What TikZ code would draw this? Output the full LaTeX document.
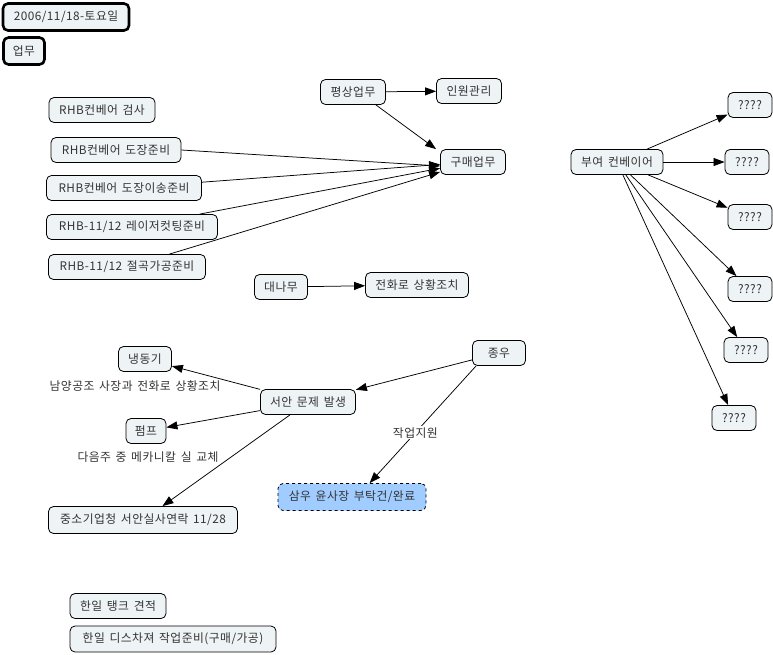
\documentclass[tikz,border=0pt]{standalone}
\usepackage{fontspec}
\setmainfont[LetterSpace=4, WordSpace=1.5]{Noto Sans CJK KR}
\usetikzlibrary{arrows.meta}
\definecolor{nodefill}{HTML}{EEF3F6}
\definecolor{bluefill}{HTML}{A0CCFF}
\definecolor{txt}{HTML}{333333}
\tikzset{
  box/.style={draw=black, line width=0.8pt, rounded corners=5pt, fill=nodefill, inner sep=0pt,
    font=\fontsize{11.8}{13}\selectfont, text=txt, minimum height=25pt},
  thickbox/.style={box, line width=2.6pt, minimum height=27pt},
  bluebox/.style={box, fill=bluefill, dashed},
  plain/.style={inner sep=1pt, font=\fontsize{11.8}{13}\selectfont, text=txt},
  ar/.style={-{Triangle[length=11pt,width=8pt]}, line width=0.75pt, draw=black},
  ln/.style={line width=0.75pt, draw=black}
}
\begin{document}
\begin{tikzpicture}[x=1pt,y=-1pt]
\useasboundingbox (0,0) rectangle (773,654);
% top-left
\node[thickbox, minimum width=126pt] (date) at (66,17) {2006/11/18-토요일};
\node[thickbox, minimum width=41pt] (work) at (24,51) {업무};
% RHB nodes
\node[box, minimum width=106pt] (r1) at (102,110) {RHB컨베어 검사};
\node[box, minimum width=130pt] (r2) at (116,150) {RHB컨베어 도장준비};
\node[box, minimum width=155pt] (r3) at (124,188) {RHB컨베어 도장이송준비};
\node[box, minimum width=171pt] (r4) at (132,227) {RHB-11/12 레이저컷팅준비};
\node[box, minimum width=157pt] (r5) at (127,267) {RHB-11/12 절곡가공준비};
% middle top
\node[box, minimum width=65pt] (pyeong) at (353,92) {평상업무};
\node[box, minimum width=65pt] (inwon) at (469,91) {인원관리};
\node[box, minimum width=65pt] (gumae) at (473,162) {구매업무};
\node[box, minimum width=53pt] (daenamu) at (281,287) {대나무};
\node[box, minimum width=103pt] (jeonhwa) at (417,285) {전화로 상황조치};
% right
\node[box, minimum width=44pt] (q1) at (750,105) {????};
\node[box, minimum width=92pt] (buyeo) at (617,162) {부여 컨베이어};
\node[box, minimum width=44pt] (q2) at (747,162) {????};
\node[box, minimum width=44pt] (q3) at (750,217) {????};
\node[box, minimum width=44pt] (q4) at (750,289) {????};
\node[box, minimum width=44pt] (q5) at (746,350) {????};
\node[box, minimum width=44pt] (q6) at (734,418) {????};
% lower-left
\node[box, minimum width=53pt] (naeng) at (145,359) {냉동기};
\node[plain] (t1) at (135,386) {남양공조 사장과 전화로 상황조치};
\node[box, minimum width=40pt] (pump) at (146,431) {펌프};
\node[plain] (t2) at (148,457) {다음주 중 메카니칼 실 교체};
\node[box, minimum width=95pt] (seoan) at (308,402) {서안 문제 발생};
\node[box, minimum width=53pt] (jongwoo) at (499,353) {종우};
\node[bluebox, minimum width=148pt, minimum height=27pt] (samwoo) at (352,497) {삼우 윤사장 부탁건/완료};
\node[box, minimum width=189pt, minimum height=27pt] (jungso) at (143,520) {중소기업청 서안실사연락 11/28};
\node[box, minimum width=96pt] (hanil1) at (118,606) {한일 탱크 견적};
\node[box, minimum width=206pt, minimum height=26pt] (hanil2) at (173,639) {한일 디스차져 작업준비(구매/가공)};
% edges
\draw[ar] (pyeong) -- (inwon);
\draw[ar] ([xshift=-10pt]pyeong.south east) -- ([xshift=-4pt]gumae.north west);
\draw[ar] (r2.east) -- ([yshift=-4pt]gumae.west);
\draw[ar] (r3) -- (gumae);
\draw[ar] (r4) -- (gumae);
\draw[ar] (r5) -- (gumae);
\draw[ar] (daenamu) -- (jeonhwa);
\draw[ar] (buyeo) -- (q1);
\draw[ar] (buyeo) -- (q2);
\draw[ar] (buyeo) -- (q3);
\draw[ar] (buyeo) -- (q4);
\draw[ar] (buyeo) -- (q5);
\draw[ar] (buyeo) -- (q6);
\draw[ar] (seoan) -- (naeng);
\draw[ar] (seoan) -- (pump);
\draw[ar] (seoan) -- (jungso);
\draw[ar] (jongwoo) -- (seoan);
\draw[ar] ([xshift=4pt]jongwoo.south west) -- node[pos=0.57, fill=white, inner sep=1pt, font=\fontsize{11.8}{13}\selectfont, text=txt] (lbl) {작업지원} ([xshift=92pt]samwoo.north west);
\end{tikzpicture}
\end{document}
